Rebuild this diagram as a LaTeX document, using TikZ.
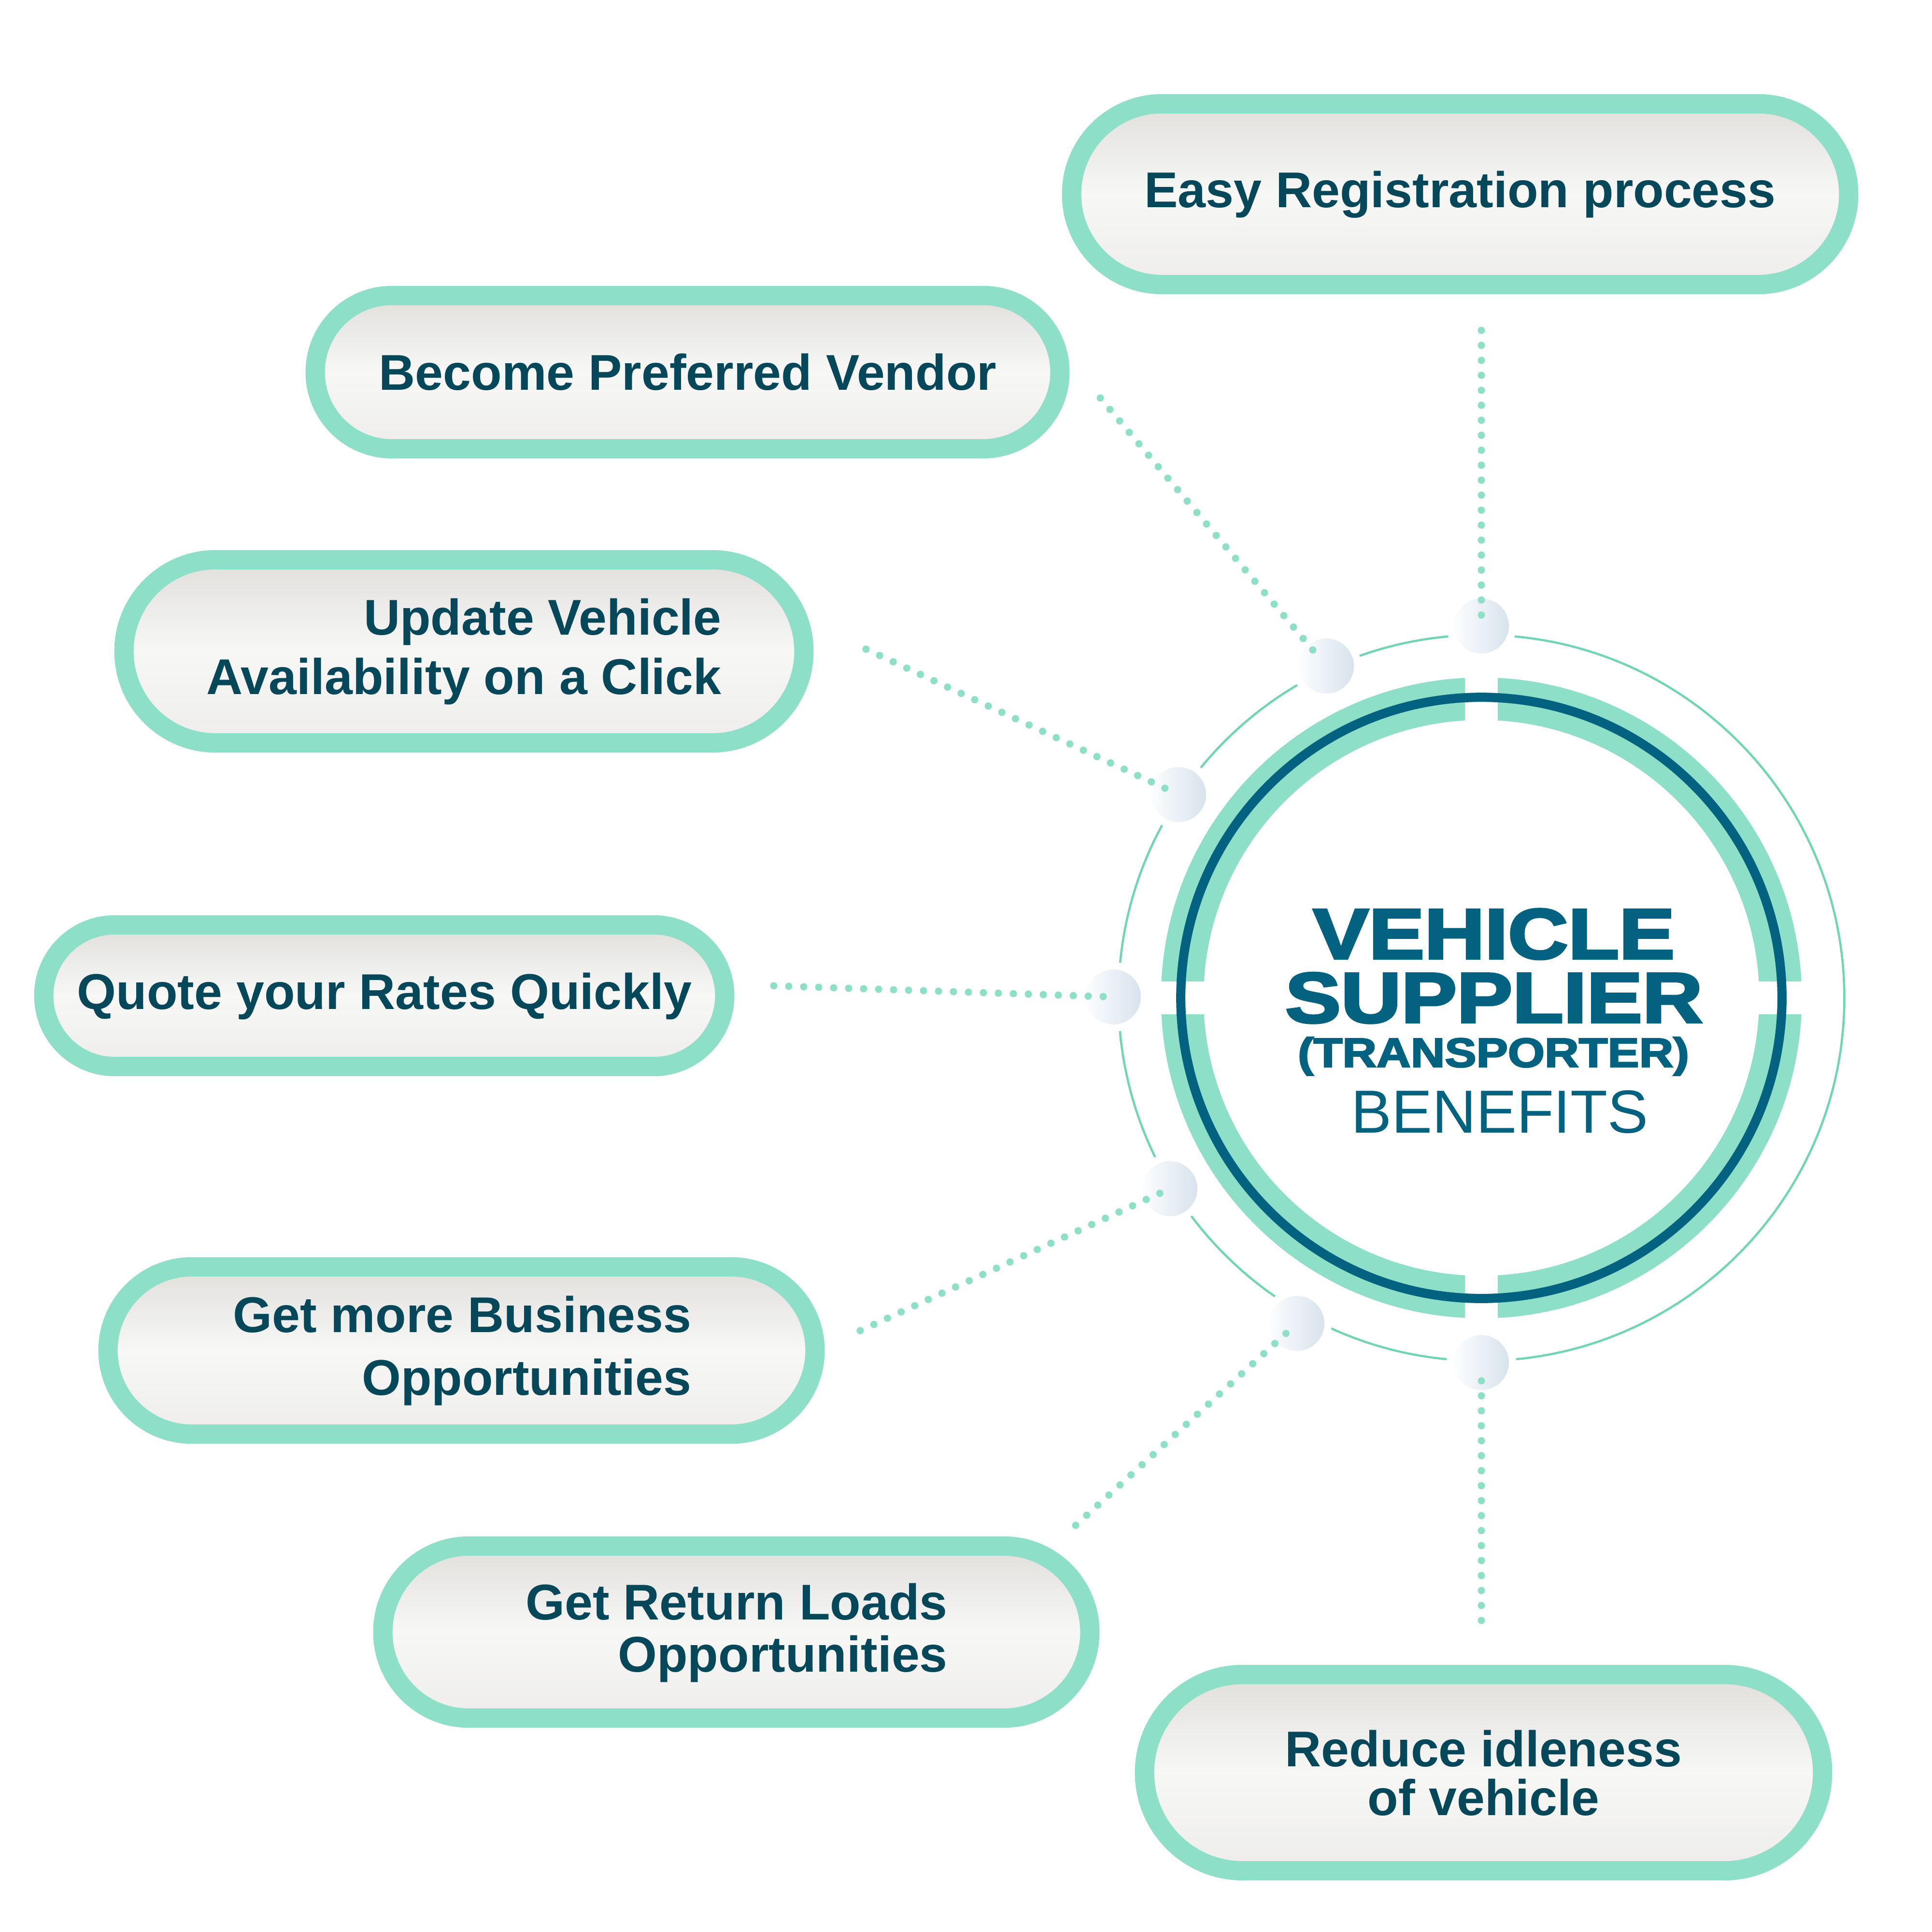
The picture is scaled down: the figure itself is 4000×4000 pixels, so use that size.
\documentclass[tikz,border=0pt]{standalone}
\usepackage{graphicx}
\usepackage{fontspec}
\setmainfont{Liberation Sans}
\newfontfamily\heavyfont{Liberation Sans}[BoldFeatures={FakeBold=3}]
\usetikzlibrary{shapes.misc}
\definecolor{mint}{HTML}{8DDFC8}
\definecolor{thinmint}{HTML}{6FD5B5}
\definecolor{ringblue}{HTML}{03627F}
\definecolor{titleblue}{HTML}{03627F}
\definecolor{pilltext}{HTML}{06475A}
\definecolor{pilltop}{HTML}{E0DFDC}
\definecolor{pillmid}{HTML}{F7F7F6}
\definecolor{pillbot}{HTML}{EEEDEB}
\definecolor{bubblecol}{HTML}{D5E1EC}
\begin{document}
\begin{tikzpicture}[x=0.01cm,y=-0.01cm,
  pill/.style={rounded rectangle, draw=mint, line width=0.4cm,
    top color=pilltop, bottom color=pillbot, middle color=pillmid, inner sep=0pt},
  pilltxt/.style={anchor=base, text=pilltext, inner sep=0pt},
  bubble/.style={circle, inner sep=0pt, minimum size=1.29cm, draw=white,
    line width=0.15cm, left color=white, right color=bubblecol},
  dotline/.style={mint, line width=0.15cm, line cap=round,
    dash pattern=on 0pt off 0.31cm, shorten >=0.2cm},
  title/.style={anchor=base, text=titleblue, inner sep=0pt, text depth=0pt}]
\fill[white] (0,0) rectangle (4000,4000);
\useasboundingbox (0,0) rectangle (4000,4000);

\coordinate (C) at (3067,2066);

% thin outer circle
\draw[thinmint, line width=0.045cm] (C) circle[radius=7.51cm];

% green segmented ring
\begin{scope}
  \clip (C) ++(34,34) rectangle ++(700,700)
        (C) ++(-34,34) rectangle ++(-700,700)
        (C) ++(34,-34) rectangle ++(700,-700)
        (C) ++(-34,-34) rectangle ++(-700,-700);
  \fill[mint, even odd rule] (C) circle[radius=6.63cm] (C) circle[radius=5.75cm];
\end{scope}
% dark ring
\draw[ringblue, line width=0.19cm] (C) circle[radius=6.22cm];

% bubbles
\node[bubble] (b1) at (3067,1296) {};
\node[bubble] (b2) at (2746,1379) {};
\node[bubble] (b3) at (2440,1645) {};
\node[bubble] (b4) at (2305,2064) {};
\node[bubble] (b5) at (2422,2461) {};
\node[bubble] (b6) at (2685,2740) {};
\node[bubble] (b7) at (3067,2821) {};

% pills
\node[pill, minimum width=16.08cm, minimum height=3.74cm] (p1) at (3023,402) {};
\node[pill, minimum width=15.41cm, minimum height=3.17cm] (p2) at (1423.5,770.5) {};
\node[pill, minimum width=14.07cm, minimum height=3.79cm] (p3) at (960.5,1348.5) {};
\node[pill, minimum width=14.09cm, minimum height=2.93cm] (p4) at (795.5,2061.5) {};
\node[pill, minimum width=14.63cm, minimum height=3.46cm] (p5) at (955.5,2796) {};
\node[pill, minimum width=14.63cm, minimum height=3.56cm] (p6) at (1524.5,3379) {};
\node[pill, minimum width=14.03cm, minimum height=4.06cm] (p7) at (3071.5,3670) {};

% pill texts (anchor = baseline of the last line)
\node[pilltxt, font=\fontsize{29.6}{36}\selectfont\bfseries] (t1) at (3023,430) {Easy Registration process};
\node[pilltxt, font=\fontsize{29.6}{36}\selectfont\bfseries] (t2) at (1424,807) {Become Preferred Vendor};
\node[pilltxt, align=right, font=\fontsize{29.6}{34.7}\selectfont\bfseries] (t3) at (960.5,1437) {Update Vehicle\\Availability on a Click};
\node[pilltxt, font=\fontsize{29.6}{36}\selectfont\bfseries] (t4) at (796,2089) {Quote your Rates Quickly};
\node[pilltxt, align=right, font=\fontsize{29.6}{36.7}\selectfont\bfseries] (t5) at (957,2888) {Get more Business\\Opportunities};
\node[pilltxt, align=right, font=\fontsize{29.6}{30.7}\selectfont\bfseries] (t6) at (1525,3461) {Get Return Loads\\Opportunities};
\node[pilltxt, align=center, font=\fontsize{29.6}{28.7}\selectfont\bfseries] (t7) at (3071.5,3758) {Reduce idleness\\of vehicle};

% connector start points
\coordinate (s1) at (3067,684);
\coordinate (s2) at (2278,824);
\coordinate (s3) at (1793,1344);
\coordinate (s4) at (1602,2041);
\coordinate (s5) at (1781,2755);
\coordinate (s6) at (2227,3158);
\coordinate (s7) at (3067,3355);

\draw[dotline] (s1) -- (b1.center);
\draw[dotline] (s2) -- (b2.center);
\draw[dotline] (s3) -- (b3.center);
\draw[dotline] (s4) -- (b4.center);
\draw[dotline] (s5) -- (b5.center);
\draw[dotline] (s6) -- (b6.center);
\draw[dotline] (s7) -- (b7.center);

% center title
\node[title, align=center, font=\heavyfont\bfseries\fontsize{42}{37.6}\selectfont] (h1) at (3093,2117) {\scalebox{1.17}[1]{VEHICLE}\\\scalebox{1.17}[1]{SUPPLIER}};
\node[title, text height=0.61cm, font=\heavyfont\bfseries\fontsize{24.2}{26}\selectfont] (h3) at (3092,2209) {\scalebox{1.15}[1]{(TRANSPORTER)}};
\node[title, text height=0.9cm, font=\fontsize{35.8}{38}\selectfont] (h4) at (3105,2345) {BENEFITS};
\end{tikzpicture}
\end{document}
